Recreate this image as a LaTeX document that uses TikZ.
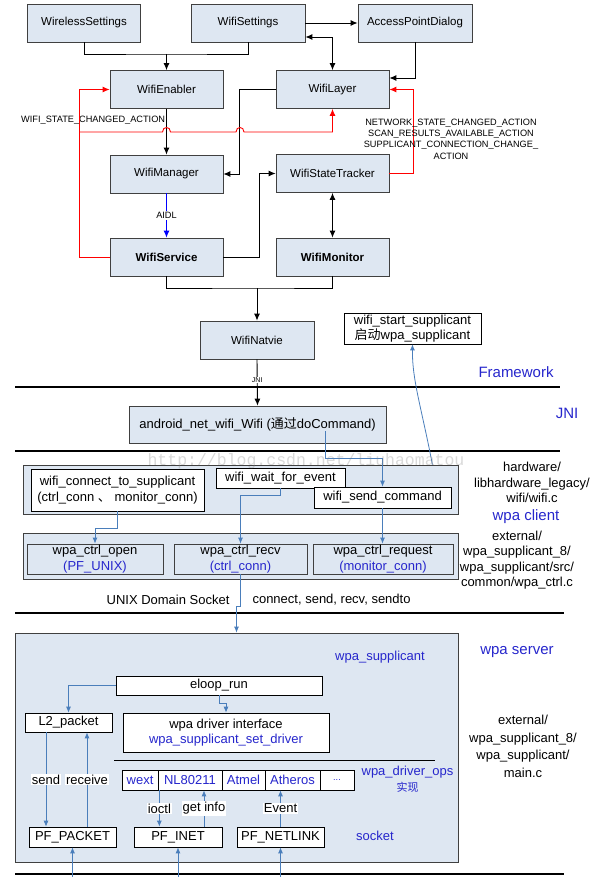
\documentclass[tikz,border=0pt]{standalone}
\usepackage{fontspec}
\setmainfont{Liberation Sans}
\setsansfont{Liberation Sans}
\newfontfamily\cjk{Noto Sans CJK SC}
\newfontfamily\wmfont{Liberation Mono}
\usepackage{tikz}
\usetikzlibrary{arrows.meta}
\definecolor{boxfill}{RGB}{222,231,242}
\definecolor{boxline}{RGB}{64,64,64}
\definecolor{linkblue}{RGB}{74,126,187}
\definecolor{txtblue}{RGB}{38,38,204}
\newcommand{\fwfont}{\fontsize{11.5}{13}\selectfont}
\newcommand{\lowfont}{\fontsize{13}{15.5}\selectfont}
\newcommand{\actfont}{\fontsize{9.2}{11.3}\selectfont}
\newcommand{\bigfont}{\fontsize{15}{18}\selectfont}
\tikzset{
  fw_box/.style = {rectangle, draw=boxline, fill=boxfill, line width=0.8pt,
    minimum width=113pt, minimum height=38pt, inner sep=0pt, font=\fwfont},% framework box
  fw_bold/.style = {fw_box, font=\fwfont\bfseries},
  wh_box/.style = {rectangle, draw=black, fill=white, line width=0.7pt,
    inner sep=0pt, align=center, font=\lowfont},% white box
  pn_box/.style = {rectangle, draw=boxline, fill=boxfill, line width=0.8pt,
    inner sep=0pt},% panel
  ct_box/.style = {pn_box, align=center, font=\lowfont, minimum height=30pt},
  dr_box/.style = {wh_box, text=txtblue, minimum height=20pt},% driver
  sep_line/.style = {line width=1.6pt, black},
  bk_link/.style = {-{Latex[length=7pt,width=6pt]}, black, line width=0.9pt},
  bk_both/.style = {{Latex[length=7pt,width=6pt]}-{Latex[length=7pt,width=6pt]}, black, line width=0.9pt},
  rd_link/.style = {-{Latex[length=7pt,width=6pt]}, red, line width=0.9pt},
  bl_link/.style = {-{Latex[length=6pt,width=5pt]}, linkblue, line width=0.8pt},
  big_lbl/.style = {text=txtblue, font=\bigfont},
  path_lbl/.style = {align=center, font=\lowfont},
  act_lbl/.style = {align=center, font=\actfont, inner sep=1pt},
  bl_lbl/.style = {text=txtblue, align=center, font=\lowfont},
  on_lbl/.style = {fill=white, text=black, inner sep=1pt, font=\lowfont},
}

\begin{document}
\begin{tikzpicture}[x=1pt, y=-1pt]
\useasboundingbox (0,0) rectangle (596,877);
%   framework
  \node[fw_box] (wless) at (84,23) {WirelessSettings};
  \node[fw_box, minimum width=114pt] (wset) at (248,23) {WifiSettings};
  \node[fw_box, minimum width=114pt] (apd) at (415,23) {AccessPointDialog};
  \node[fw_box] (enabler) at (166.5,89.5) {WifiEnabler};
  \node[fw_box] (layer) at (332.5,89.5) {WifiLayer};
  \node[fw_box] (manager) at (166.5,174) {WifiManager};
  \node[fw_box] (tracker) at (332.5,173.5) {WifiStateTracker};
  \node[fw_bold] (service) at (166.5,257) {WifiService};
  \node[fw_bold] (monitor) at (332.5,257) {WifiMonitor};
  \node[fw_box, minimum width=114pt] (native) at (257,340) {WifiNatvie};
  \coordinate (jtop) at (166.5,54);
  \coordinate (jbot) at (257,288);

  \draw[line width=0.9pt] (wless.south) |- (jtop) -| (wset.south);
  \draw[bk_link] (jtop) -- (enabler.north);
  \draw[bk_link] (wset.east) -- (apd.west);
  \draw[bk_both] ([yshift=-14pt]wset.east) -| (layer.north);
  \draw[bk_link] (apd.south) |- ([yshift=11.5pt]layer.east);
  \draw[bk_link] (enabler.south) -- (manager.north)
    node[pos=.24, anchor=east, act_lbl] {WIFI\_STATE\_CHANGED\_ACTION};
  \draw[bk_link] (layer.west) -- ++(-36,0) |- (manager.east);
  \draw[bk_link] (service.east) -- ++(36,0) |- (tracker.west);
  \draw[bk_both] (tracker.south) -- (monitor.north);
  \draw[bk_link, blue] (manager.south) -- (service.north)
    node[midway, fill=white, text=black, act_lbl] {AIDL};
  \draw[line width=0.9pt] (service.south) |- (jbot) -| (monitor.south);
  \draw[bk_link] (jbot) -- (native.north);

%   broadcasts
  \coordinate (rbr) at (80,132);
  \draw[rd_link] (service.west) -- ++(-30,0) |- (enabler.west);
  \draw[rd_link] (rbr) -- (162.5,132) .. controls (162.5,126) and (170.5,126) .. (170.5,132)
    -- (236,132) .. controls (236,126) and (244,126) .. (244,132) -| (layer.south);
  \draw[rd_link] (tracker.east) -- ++(24,0) |- (layer.east);
  \node[act_lbl] (bcast) at (451,139) {NETWORK\_STATE\_CHANGED\_ACTION\\SCAN\_RESULTS\_AVAILABLE\_ACTION\\SUPPLICANT\_CONNECTION\_CHANGE\_\\ACTION};

  \node[wh_box, minimum width=137pt, minimum height=31pt] (startsup) at (412.5,328.5)
    {wifi\_start\_supplicant\\{\cjk 启动}wpa\_supplicant};
  \node[big_lbl] (fwname) at (516,372) {Framework};
  \draw[sep_line] (15,387) -- (560,387);

%   JNI
  \node[fw_box, minimum width=257pt, minimum height=37pt, font=\lowfont] (jnibox) at (257.5,424.5)
    {android\_net\_wifi\_Wifi ({\cjk 通过}doCommand)};
  \draw[bk_link] (native.south) -- (jnibox.north)
    node[pos=.45, fill=white, inner sep=0.5pt, font=\fontsize{7}{8}\selectfont] {JNI};
  \node[big_lbl] (jniname) at (567,413) {JNI};
  \draw[sep_line] (15,451) -- (560,451);

%   wpa client
  \node[pn_box, minimum width=435pt, minimum height=49pt] (cpanel) at (240.5,489.5) {};
  \node[wh_box, minimum width=173pt, minimum height=42pt] (wconn) at (117.5,490)
    {wifi\_connect\_to\_supplicant\\(ctrl\_conn {\cjk 、}\ monitor\_conn)};
  \node[wh_box, minimum width=129pt, minimum height=20pt] (wwait) at (280.5,478) {wifi\_wait\_for\_event};
  \node[wh_box, minimum width=137pt, minimum height=21pt] (wsend) at (382.5,497.5) {wifi\_send\_command};
  \node[pn_box, minimum width=435pt, minimum height=46pt] (rpanel) at (240.5,556) {};
  \node[ct_box, minimum width=136pt] (copen) at (95,559) {wpa\_ctrl\_open\\\textcolor{txtblue}{(PF\_UNIX)}};
  \node[ct_box, minimum width=133pt] (crecv) at (240.5,559) {wpa\_ctrl\_recv\\\textcolor{txtblue}{(ctrl\_conn)}};
  \node[ct_box, minimum width=140pt] (creq) at (383,559) {wpa\_ctrl\_request\\\textcolor{txtblue}{(monitor\_conn)}};

  \draw[bl_link] ([xshift=67.5pt,yshift=-6.5pt]jnibox.center) -- ++(0,27) -| (wsend.north);
  \draw[bl_link] (wwait.south) -- ++(0,7) -| (crecv.north);
  \draw[bl_link] (wconn.south) -- ++(0,17) -| (copen.north);
  \draw[bl_link] (wsend.south) -- (wsend.south |- creq.north);
  \draw[bl_link] ([xshift=-26pt]cpanel.north east) .. controls (422,410) and (412,380) .. (startsup.south);

  \node[path_lbl] (hwpath) at (532,482.5) {hardware/\\libhardware\_legacy/\\wifi/wifi.c};
  \node[big_lbl] (cliname) at (526,517) {wpa client};
  \node[path_lbl, text depth=0pt] (ctrlpath) at (517,559) {external/\\wpa\_supplicant\_8/\\wpa\_supplicant/src/\\common/wpa\_ctrl.c};

  \node[font=\lowfont, anchor=east] (unixlbl) at (233,600) {UNIX Domain Socket};
  \node[font=\lowfont, anchor=west] (calls) at (249,600) {connect, send, recv, sendto};
  \draw[sep_line] (15,613) -- (564,613);

%   wpa server
  \node[pn_box, minimum width=443pt, minimum height=229pt] (server) at (236.5,747.5) {};
  \draw[bl_link] (crecv.south) -- ++(0,32) -- ++(-4,0) -- ([xshift=-4pt]crecv.south |- server.north);
  \node[bl_lbl] (supname) at (380,657) {wpa\_supplicant};
  \node[big_lbl] (srvname) at (517,652) {wpa server};
  \node[path_lbl] (srvpath) at (523,746.5) {external/\\[2pt]wpa\_supplicant\_8/\\[2pt]wpa\_supplicant/\\[2pt]main.c};

  \node[wh_box, minimum width=206pt, minimum height=19pt] (eloop) at (219,685.5) {eloop\_run};
  \node[wh_box, minimum width=87pt, minimum height=19pt] (l2) at (68.5,722.5) {L2\_packet};
  \node[wh_box, minimum width=206pt, minimum height=39pt] (drvif) at (226,732.5)
    {wpa driver interface\\\textcolor{txtblue}{wpa\_supplicant\_set\_driver}};
  \draw[line width=0.8pt] (114,760) -- (435,760);
  \node[dr_box, minimum width=36pt] (wext) at (140,780) {wext};
  \node[dr_box, minimum width=64pt] (nl) at (190,780) {NL80211};
  \node[dr_box, minimum width=43pt] (atmel) at (243.5,780) {Atmel};
  \node[dr_box, minimum width=55pt] (atheros) at (292.5,780) {Atheros};
  \node[dr_box, minimum width=34pt, font=\actfont] (dots) at (337,780) {...};
  \node[bl_lbl] (drvops) at (407.5,779) {wpa\_driver\_ops\\{\cjk\fontsize{11}{13}\selectfont 实现}};

  \node[wh_box, minimum width=87pt, minimum height=20pt] (pfpk) at (72.5,837) {PF\_PACKET};
  \node[wh_box, minimum width=88pt, minimum height=20pt] (pfinet) at (178,837) {PF\_INET};
  \node[wh_box, minimum width=87pt, minimum height=20pt] (pfnl) at (280.5,837) {PF\_NETLINK};
  \node[bl_lbl] (sockname) at (375,836) {socket};

  \draw[bl_link] (eloop.west) -| (l2.north);
  \draw[bl_link] (eloop.south) -- ++(0,8) -| (drvif.north);
  \draw[bl_link] ([xshift=-22.5pt]l2.south) -- ([xshift=-22.5pt]l2.south |- pfpk.north)
    node[midway, on_lbl] {send};
  \draw[bl_link] ([xshift=14.5pt]pfpk.north) -- ([xshift=14.5pt]pfpk.north |- l2.south)
    node[midway, on_lbl] {receive};
  \draw[bl_link] ([xshift=1pt]wext.south east) -- ([xshift=1pt]wext.south east |- pfinet.north)
    node[midway, on_lbl] {ioctl};
  \draw[bl_link] ([xshift=26pt]pfinet.north) -- ([xshift=26pt]pfinet.north |- nl.south)
    node[midway, on_lbl] {get info};
  \draw[bl_link] (pfnl.north) -- (pfnl.north |- atheros.south)
    node[midway, on_lbl] {Event};

  \coordinate (inpk) at (72.5,877);
  \coordinate (ininet) at (178,877);
  \coordinate (innl) at (280.5,877);
  \draw[sep_line] (15,874) -- (564,874);
  \draw[bl_link] (inpk) -- (pfpk.south);
  \draw[bl_link] (ininet) -- (pfinet.south);
  \draw[bl_link] (innl) -- (pfnl.south);

  \node[text=gray, opacity=.3, font=\wmfont\fontsize{16.5}{18}\selectfont] (wmark) at (306,461)
    {http://blog.csdn.net/liuhaomatou};
\end{tikzpicture}
\end{document}
